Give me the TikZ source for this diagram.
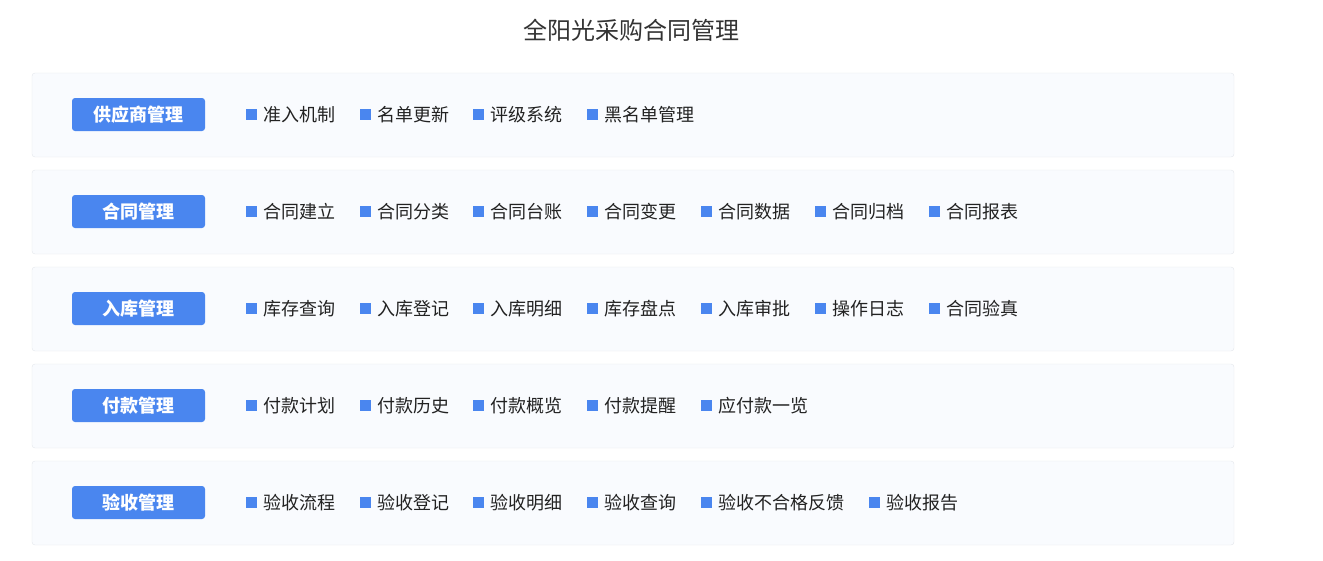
\documentclass[tikz,border=0pt]{standalone}
\usepackage{fontspec}
\setmainfont{Noto Sans CJK SC}
\usetikzlibrary{positioning}

\definecolor{tagblue}{HTML}{4A86EF}
\definecolor{rowfill}{HTML}{F9FBFE}
\definecolor{rowline}{HTML}{E3E6EB}
\definecolor{textdark}{HTML}{222222}
\definecolor{titlegray}{HTML}{333333}

\tikzset{
  rowbox/.style={draw=rowline, fill=rowfill, rounded corners=3pt, minimum width=1202pt, minimum height=84pt, inner sep=0pt},
  tagbox/.style={fill=tagblue, rounded corners=3pt, minimum width=133pt, minimum height=33pt, inner sep=0pt, text=white, font=\fontsize{18}{20}\selectfont\bfseries},
  rowstart/.style={inner sep=0pt, minimum size=0pt},
  bullet/.style={fill=tagblue, minimum size=11pt, inner sep=0pt},
  itemtext/.style={text=textdark, inner sep=0pt, font=\fontsize{18}{20}\selectfont}
}

\begin{document}
\begin{tikzpicture}[x=1pt, y=-1pt]
  \useasboundingbox (0,0) rectangle (1323,560);

  \node[text=titlegray, font=\fontsize{24}{28}\selectfont] (title) at (631,30) {全阳光采购合同管理};

  % rows: box, tag, then the items one after the other
  \foreach \r/\y/\tag/\items in {
      1/115/供应商管理/{准入机制,名单更新,评级系统,黑名单管理},
      2/212/合同管理/{合同建立,合同分类,合同台账,合同变更,合同数据,合同归档,合同报表},
      3/309/入库管理/{库存查询,入库登记,入库明细,库存盘点,入库审批,操作日志,合同验真},
      4/406/付款管理/{付款计划,付款历史,付款概览,付款提醒,应付款一览},
      5/503/验收管理/{验收流程,验收登记,验收明细,验收查询,验收不合格反馈,验收报告}} {
    \node[rowbox] (row\r) at (633,\y) {};
    \node[tagbox] (tag\r) at (138.5,\y-0.5) {\tag};
    \node[rowstart, right=16pt of tag\r] (t\r-0) {};
    \foreach \t [count=\i, remember=\i as \j (initially 0)] in \items {
      \node[bullet, right=24pt of t\r-\j] (b\r-\i) {};
      \node[itemtext, right=6pt of b\r-\i] (t\r-\i) {\t};
    }
  }
\end{tikzpicture}
\end{document}
